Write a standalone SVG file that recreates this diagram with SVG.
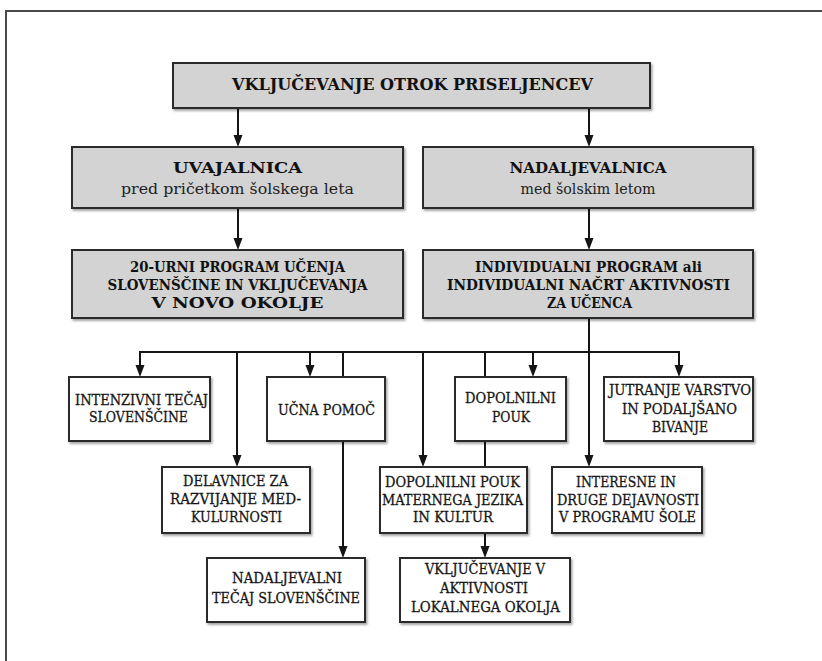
<svg xmlns="http://www.w3.org/2000/svg" width="822" height="661" viewBox="0 0 822 661">
<defs>
<style>
.frame{fill:none;stroke:#4a4a4a;stroke-width:2}
.hbox{fill:#d3d3d3;stroke:#2b2b2b;stroke-width:2;filter:url(#sh)}
.box{fill:#ffffff;stroke:#2b2b2b;stroke-width:2;filter:url(#sh)}
.ttl{font-family:"DejaVu Serif","Liberation Serif",serif;font-weight:bold;font-size:17.5px;fill:#111;text-anchor:middle}
.hb{font-family:"DejaVu Serif","Liberation Serif",serif;font-weight:bold;font-size:14.5px;fill:#111;text-anchor:middle}
.hr{font-family:"DejaVu Serif","Liberation Serif",serif;font-size:14.5px;fill:#222;text-anchor:middle}
.t{font-family:"DejaVu Serif","Liberation Serif",serif;font-size:14px;fill:#151515;stroke:#151515;stroke-width:0.3;text-anchor:middle}
.c{fill:none;stroke:#151515;stroke-width:2}
</style>
<filter id="sh" x="-5%" y="-10%" width="115%" height="130%">
<feDropShadow dx="1.5" dy="2" stdDeviation="1" flood-color="#000" flood-opacity="0.35"/>
</filter>
</defs>
<rect width="822" height="661" fill="#ffffff"/>
<path class="frame" d="M6,661 V11 H822"/>

<g id="connectors">
<path class="c" d="M238,108 V135"/><path d="M233.5,135 L242.5,135 L238,147 Z" fill="#151515"/>
<path class="c" d="M589,108 V135"/><path d="M584.5,135 L593.5,135 L589,147 Z" fill="#151515"/>
<path class="c" d="M238,208 V238"/><path d="M233.5,238 L242.5,238 L238,250 Z" fill="#151515"/>
<path class="c" d="M589,208 V238"/><path d="M584.5,238 L593.5,238 L589,250 Z" fill="#151515"/>
<path class="c" d="M139,352 H680"/>
<path class="c" d="M140,351 V365"/><path d="M135.5,365 L144.5,365 L140,377 Z" fill="#151515"/>
<path class="c" d="M237,351 V455"/><path d="M232.5,455 L241.5,455 L237,467 Z" fill="#151515"/>
<path class="c" d="M310,351 V365"/><path d="M305.5,365 L314.5,365 L310,377 Z" fill="#151515"/>
<path class="c" d="M343,351 V376"/>
<path class="c" d="M343,441 V546"/><path d="M338.5,546 L347.5,546 L343,558 Z" fill="#151515"/>
<path class="c" d="M423,351 V455"/><path d="M418.5,455 L427.5,455 L423,467 Z" fill="#151515"/>
<path class="c" d="M485,351 V376"/>
<path class="c" d="M485,441 V466"/>
<path class="c" d="M485,533 V546"/><path d="M480.5,546 L489.5,546 L485,558 Z" fill="#151515"/>
<path class="c" d="M533,351 V365"/><path d="M528.5,365 L537.5,365 L533,377 Z" fill="#151515"/>
<path class="c" d="M589,318 V455"/><path d="M584.5,455 L593.5,455 L589,467 Z" fill="#151515"/>
<path class="c" d="M679,351 V365"/><path d="M674.5,365 L683.5,365 L679,377 Z" fill="#151515"/>
</g>

<g id="n-title">
<rect class="hbox" x="173" y="63" width="477" height="45"/>
<text class="ttl" x="412.5" y="90" textLength="361" lengthAdjust="spacingAndGlyphs">VKLJUČEVANJE OTROK PRISELJENCEV</text>
</g>

<g id="n-uvajalnica">
<rect class="hbox" x="72" y="147" width="331" height="61"/>
<text class="hb" x="237.5" y="173" textLength="129" lengthAdjust="spacingAndGlyphs">UVAJALNICA</text>
<text class="hr" x="237.5" y="194" textLength="233" lengthAdjust="spacingAndGlyphs">pred pričetkom šolskega leta</text>
</g>

<g id="n-nadaljevalnica">
<rect class="hbox" x="423" y="147" width="330" height="61"/>
<text class="hb" x="588" y="173" textLength="157" lengthAdjust="spacingAndGlyphs">NADALJEVALNICA</text>
<text class="hr" x="588" y="194" textLength="135" lengthAdjust="spacingAndGlyphs">med šolskim letom</text>
</g>

<g id="n-20urni">
<rect class="hbox" x="72" y="250" width="331" height="68"/>
<text class="hb" x="237.5" y="272" textLength="215" lengthAdjust="spacingAndGlyphs">20-URNI PROGRAM UČENJA</text>
<text class="hb" x="237.5" y="290" textLength="260" lengthAdjust="spacingAndGlyphs">SLOVENŠČINE IN VKLJUČEVANJA</text>
<text class="hb" x="237.5" y="308" textLength="172" lengthAdjust="spacingAndGlyphs">V NOVO OKOLJE</text>
</g>

<g id="n-individualni">
<rect class="hbox" x="423" y="250" width="330" height="68"/>
<text class="hb" x="588.5" y="272" textLength="227" lengthAdjust="spacingAndGlyphs">INDIVIDUALNI PROGRAM ali</text>
<text class="hb" x="588.5" y="290" textLength="283" lengthAdjust="spacingAndGlyphs">INDIVIDUALNI NAČRT AKTIVNOSTI</text>
<text class="hb" x="589.5" y="308" textLength="85" lengthAdjust="spacingAndGlyphs">ZA UČENCA</text>
</g>

<g id="n-intenzivni">
<rect class="box" x="69" y="377" width="141" height="64"/>
<text class="t" x="141.5" y="405" textLength="133" lengthAdjust="spacingAndGlyphs">INTENZIVNI TEČAJ</text>
<text class="t" x="138.5" y="422" textLength="99" lengthAdjust="spacingAndGlyphs">SLOVENŠČINE</text>
</g>

<g id="n-ucna">
<rect class="box" x="267" y="377" width="118" height="64"/>
<text class="t" x="326.5" y="415" textLength="97" lengthAdjust="spacingAndGlyphs">UČNA POMOČ</text>
</g>

<g id="n-dopolnilni">
<rect class="box" x="455" y="377" width="111" height="64"/>
<text class="t" x="510.5" y="403" textLength="91" lengthAdjust="spacingAndGlyphs">DOPOLNILNI</text>
<text class="t" x="511" y="422" textLength="38" lengthAdjust="spacingAndGlyphs">POUK</text>
</g>

<g id="n-jutranje">
<rect class="box" x="604" y="377" width="149" height="64"/>
<text class="t" x="680" y="395" textLength="142" lengthAdjust="spacingAndGlyphs">JUTRANJE VARSTVO</text>
<text class="t" x="679.5" y="414" textLength="115" lengthAdjust="spacingAndGlyphs">IN PODALJŠANO</text>
<text class="t" x="680" y="432" textLength="56" lengthAdjust="spacingAndGlyphs">BIVANJE</text>
</g>

<g id="n-delavnice">
<rect class="box" x="162" y="467" width="148" height="66"/>
<text class="t" x="235.5" y="486" textLength="105" lengthAdjust="spacingAndGlyphs">DELAVNICE ZA</text>
<text class="t" x="235.5" y="504" textLength="131" lengthAdjust="spacingAndGlyphs">RAZVIJANJE MED-</text>
<text class="t" x="236.5" y="522" textLength="91" lengthAdjust="spacingAndGlyphs">KULURNOSTI</text>
</g>

<g id="n-maternega">
<rect class="box" x="380" y="467" width="147" height="66"/>
<text class="t" x="452.5" y="487" textLength="135" lengthAdjust="spacingAndGlyphs">DOPOLNILNI POUK</text>
<text class="t" x="452.5" y="505" textLength="141" lengthAdjust="spacingAndGlyphs">MATERNEGA JEZIKA</text>
<text class="t" x="453" y="522" textLength="80" lengthAdjust="spacingAndGlyphs">IN KULTUR</text>
</g>

<g id="n-interesne">
<rect class="box" x="552" y="467" width="150" height="66"/>
<text class="t" x="626" y="487" textLength="100" lengthAdjust="spacingAndGlyphs">INTERESNE IN</text>
<text class="t" x="628" y="505" textLength="142" lengthAdjust="spacingAndGlyphs">DRUGE DEJAVNOSTI</text>
<text class="t" x="627.5" y="522" textLength="137" lengthAdjust="spacingAndGlyphs">V PROGRAMU ŠOLE</text>
</g>

<g id="n-nadaljevalni">
<rect class="box" x="207" y="558" width="158" height="64"/>
<text class="t" x="287" y="583" textLength="110" lengthAdjust="spacingAndGlyphs">NADALJEVALNI</text>
<text class="t" x="286" y="603" textLength="148" lengthAdjust="spacingAndGlyphs">TEČAJ SLOVENŠČINE</text>
</g>

<g id="n-vkljucevanje">
<rect class="box" x="400" y="558" width="170" height="64"/>
<text class="t" x="485" y="574" textLength="120" lengthAdjust="spacingAndGlyphs">VKLJUČEVANJE V</text>
<text class="t" x="484" y="593" textLength="88" lengthAdjust="spacingAndGlyphs">AKTIVNOSTI</text>
<text class="t" x="485.5" y="612" textLength="149" lengthAdjust="spacingAndGlyphs">LOKALNEGA OKOLJA</text>
</g>
</svg>
